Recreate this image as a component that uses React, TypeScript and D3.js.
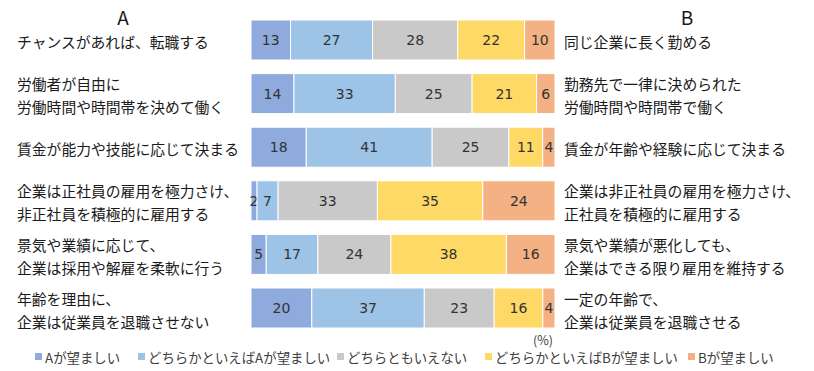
import React from "react";
import * as d3 from "d3";

const leftLabels: string[][] = [
  ["チャンスがあれば、転職する"],
  ["労働者が自由に", "労働時間や時間帯を決めて働く"],
  ["賃金が能力や技能に応じて決まる"],
  ["企業は正社員の雇用を極力さけ、", "非正社員を積極的に雇用する"],
  ["景気や業績に応じて、", "企業は採用や解雇を柔軟に行う"],
  ["年齢を理由に、", "企業は従業員を退職させない"],
];
const rightLabels: string[][] = [
  ["同じ企業に長く勤める"],
  ["勤務先で一律に決められた", "労働時間や時間帯で働く"],
  ["賃金が年齢や経験に応じて決まる"],
  ["企業は非正社員の雇用を極力さけ、", "正社員を積極的に雇用する"],
  ["景気や業績が悪化しても、", "企業はできる限り雇用を維持する"],
  ["一定の年齢で、", "企業は従業員を退職させる"],
];
const seriesNames = [
  "Aが望ましい",
  "どちらかといえばAが望ましい",
  "どちらともいえない",
  "どちらかといえばBが望ましい",
  "Bが望ましい",
];
const aPreferred = [13, 14, 18, 2, 5, 20];
const ratherA = [27, 33, 41, 7, 17, 37];
const neither = [28, 25, 25, 33, 24, 23];
const ratherB = [22, 21, 11, 35, 38, 16];
const bPreferred = [10, 6, 4, 24, 16, 4];
const colors = ["#8faadc", "#9dc3e6", "#c9c9c9", "#ffd966", "#f4b183"];

const W = 814;
const H = 371;
const JP = "'Noto Sans CJK JP', 'Noto Sans', sans-serif";
const NUM = "'DejaVu Sans', Verdana, sans-serif";

export default function App() {
  const series = [aPreferred, ratherA, neither, ratherB, bPreferred];
  const rows = leftLabels.map((_, i) => i);
  const x = d3.scaleLinear().domain([0, 1]).range([251, 555]);
  const y = d3
    .scaleBand<number>()
    .domain(rows)
    .range([13.2, 334.8])
    .paddingInner(0.254)
    .paddingOuter(0.127);

  const table = rows.map((i) => {
    const obj: any = { row: i };
    const total = d3.sum(series, (s) => s[i]);
    series.forEach((s, k) => (obj["s" + k] = s[i] / total));
    return obj;
  });
  const keys = series.map((_, k) => "s" + k);
  const stacked = d3.stack<any>().keys(keys)(table);

  const legendX = [35, 138, 337, 485, 688];
  const lineGap = 23;

  const renderLabel = (lines: string[], i: number, xPos: number) => {
    const cy = (y(i) as number) + y.bandwidth() / 2;
    const start = cy - ((lines.length - 1) * lineGap) / 2 + 1;
    return (
      <text
        key={"l" + xPos + i}
        x={xPos}
        fontFamily={JP}
        fontSize={14.8}
        fill="#1a1a1a"
        dominantBaseline="central"
      >
        {lines.map((ln, j) => (
          <tspan key={j} x={xPos} y={start + j * lineGap}>
            {ln}
          </tspan>
        ))}
      </text>
    );
  };

  return (
    <svg
      width={W}
      height={H}
      style={{ position: "absolute", left: 0, top: 0, background: "#fff" }}
    >
      <rect width={W} height={H} fill="#fff" />
      <text x={123} y={16} textAnchor="middle" dominantBaseline="central" fontFamily={JP} fontSize={19} fill="#1a1a1a">
        A
      </text>
      <text x={687} y={16} textAnchor="middle" dominantBaseline="central" fontFamily={JP} fontSize={19} fill="#1a1a1a">
        B
      </text>
      {stacked.map((layer, k) => (
        <g key={k}>
          {layer.map((d, i) => (
            <rect
              key={i}
              x={x(d[0])}
              y={y(i)}
              width={Math.max(0, x(d[1]) - x(d[0]))}
              height={y.bandwidth()}
              fill={colors[k]}
              stroke="#fff"
              strokeWidth={1}
            />
          ))}
          {layer.map((d, i) => (
            <text
              key={"t" + i}
              x={(x(d[0]) + x(d[1])) / 2}
              y={(y(i) as number) + y.bandwidth() / 2}
              textAnchor="middle"
              dominantBaseline="central"
              fontFamily={NUM}
              fontSize={14}
              fill="#333"
            >
              {series[k][i]}
            </text>
          ))}
        </g>
      ))}
      {leftLabels.map((lines, i) => renderLabel(lines, i, 17))}
      {rightLabels.map((lines, i) => renderLabel(lines, i, 564))}
      <text x={543} y={339} textAnchor="middle" dominantBaseline="central" fontFamily={JP} fontSize={12.5} fill="#404040">
        (%)
      </text>
      {seriesNames.map((name, k) => (
        <g key={name}>
          <rect x={legendX[k]} y={353} width={7} height={7} fill={colors[k]} />
          <text
            x={legendX[k] + 10}
            y={357}
            dominantBaseline="central"
            fontFamily={JP}
            fontSize={13.4}
            fill="#404040"
          >
            {name}
          </text>
        </g>
      ))}
    </svg>
  );
}
